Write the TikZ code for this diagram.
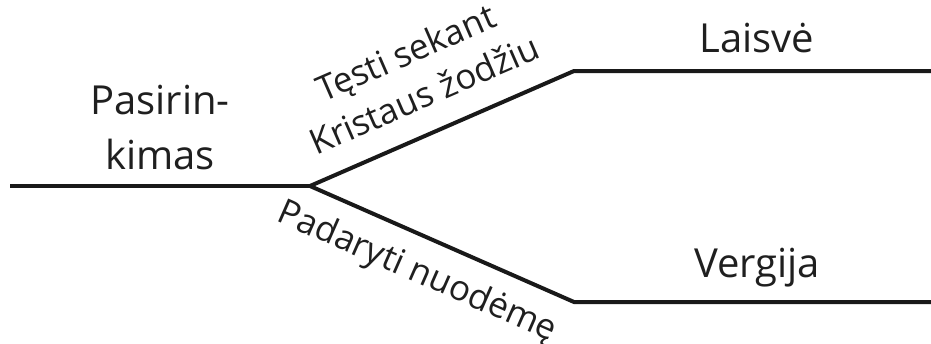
\documentclass[tikz,border=0pt]{standalone}
\usepackage{fontspec}
\setmainfont{Open Sans}
\begin{document}
\begin{tikzpicture}[x=1pt,y=-1pt,
  branch/.style={line width=4pt, line join=miter, draw=black!90},
  lbl/.style={font=\fontsize{40}{55}\selectfont, align=center, inner sep=0pt, text=black!88},
  slbl/.style={font=\fontsize{35}{46}\selectfont, align=center, inner sep=0pt, text=black!88}]
\useasboundingbox (0,0) rectangle (931,343);
\coordinate (start) at (10,186);
\coordinate (j) at (310,186);
\coordinate (u) at (574,71);
\coordinate (uend) at (931,71);
\coordinate (l) at (574,302);
\coordinate (lend) at (931,302);
\draw[branch] (start) -- (j);
\draw[branch] (j) -- node[slbl, pos=0.49, sloped, above=23pt] (up) {Tęsti sekant\\Kristaus žodžiu} (u) -- (uend);
\draw[branch] (j) -- node[slbl, pos=0.46, sloped, below=17pt] (down) {Padaryti nuodėmę} (l) -- (lend);
\node[lbl, anchor=center] (choice) at (160,128) {Pasirin-\\kimas};
\node[lbl, anchor=base] (free) at (757,52) {Laisvė};
\node[lbl, anchor=base] (slave) at (757,277) {Vergija};
\end{tikzpicture}
\end{document}
